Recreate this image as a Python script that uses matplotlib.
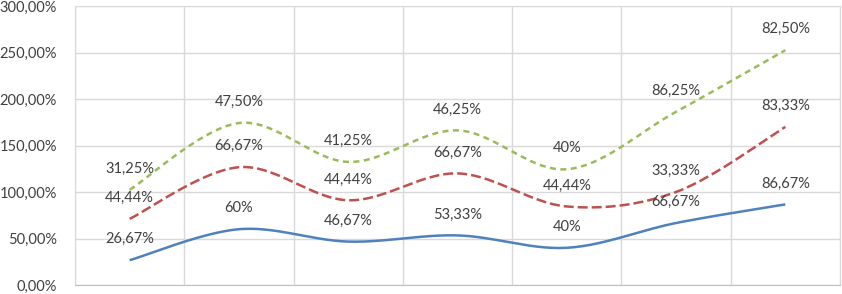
import numpy as np
import matplotlib.pyplot as plt

# valores de cada serie (%), gráfico de líneas apiladas
categorias = ['1', '2', '3', '4', '5', '6', '7']
serie1 = [26.67, 60, 46.67, 53.33, 40, 66.67, 86.67]
serie2 = [44.44, 66.67, 44.44, 66.67, 44.44, 33.33, 83.33]
serie3 = [31.25, 47.50, 41.25, 46.25, 40, 86.25, 82.50]

etiquetas1 = ['26,67%', '60%', '46,67%', '53,33%', '40%', '66,67%', '86,67%']
etiquetas2 = ['44,44%', '66,67%', '44,44%', '66,67%', '44,44%', '33,33%', '83,33%']
etiquetas3 = ['31,25%', '47,50%', '41,25%', '46,25%', '40%', '86,25%', '82,50%']

yticks = [0, 50, 100, 150, 200, 250, 300]
yticklabels = ['0,00%', '50,00%', '100,00%', '150,00%', '200,00%', '250,00%', '300,00%']


def suavizar(x, y, n=30):
    # curva tipo catmull-rom, parecida al suavizado de Excel
    x = np.asarray(x, float)
    y = np.asarray(y, float)
    px = np.concatenate([[x[0]], x, [x[-1]]])
    py = np.concatenate([[y[0]], y, [y[-1]]])
    xs, ys = [], []
    for i in range(1, len(px) - 2):
        t = np.linspace(0, 1, n)
        p0, p1, p2, p3 = (np.array([px[j], py[j]]) for j in (i - 1, i, i + 1, i + 2))
        c1 = p1 + (p2 - p0) / 6
        c2 = p2 - (p3 - p1) / 6
        pts = ((1 - t) ** 3)[:, None] * p1 + (3 * (1 - t) ** 2 * t)[:, None] * c1 \
            + (3 * (1 - t) * t ** 2)[:, None] * c2 + (t ** 3)[:, None] * p2
        xs.extend(pts[:, 0])
        ys.extend(pts[:, 1])
    return np.array(xs), np.array(ys)


plt.rcParams['font.family'] = ['Lato', 'DejaVu Sans']

fig = plt.figure(figsize=(8.42, 2.94), dpi=100)
ax = fig.add_axes([75 / 842, 9 / 294, 765 / 842, 279 / 294])

x = np.arange(len(categorias))
acum1 = np.array(serie1)
acum2 = acum1 + np.array(serie2)
acum3 = acum2 + np.array(serie3)

estilos = [
    (acum1, '#4F81BD', '-', etiquetas1),
    (acum2, '#C0504D', (0, (4, 1.6)), etiquetas2),
    (acum3, '#9BBB59', (0, (2.4, 1.8)), etiquetas3),
]
for acum, color, ls, etiq in estilos:
    sx, sy = suavizar(x, acum)
    ax.plot(sx, sy, color=color, lw=1.8, linestyle=ls, solid_capstyle='butt')
    for xi, yi, t in zip(x, acum, etiq):
        ax.annotate(t, (xi, yi), xytext=(0, 15), textcoords='offset points',
                    ha='center', va='center', fontsize=10.5, color='#404040')

ax.set_xlim(-0.5, len(categorias) - 0.5)
ax.set_ylim(0, 300)
ax.set_yticks(yticks)
ax.set_yticklabels(yticklabels, fontsize=10.5, color='#404040')
ax.set_xticks(np.arange(len(categorias) + 1) - 0.5, minor=True)
ax.set_xticks([])
ax.grid(True, axis='y', color='#D9D9D9', lw=1)
ax.grid(True, axis='x', which='minor', color='#D9D9D9', lw=1)
ax.tick_params(axis='y', length=0, pad=13)
ax.tick_params(axis='x', which='both', length=0)
for lado in ['top', 'right']:
    ax.spines[lado].set_color('#D9D9D9')
ax.spines['left'].set_color('#D9D9D9')
ax.spines['bottom'].set_color('#BFBFBF')
ax.set_axisbelow(True)

fig.savefig('out.png', dpi=100)
